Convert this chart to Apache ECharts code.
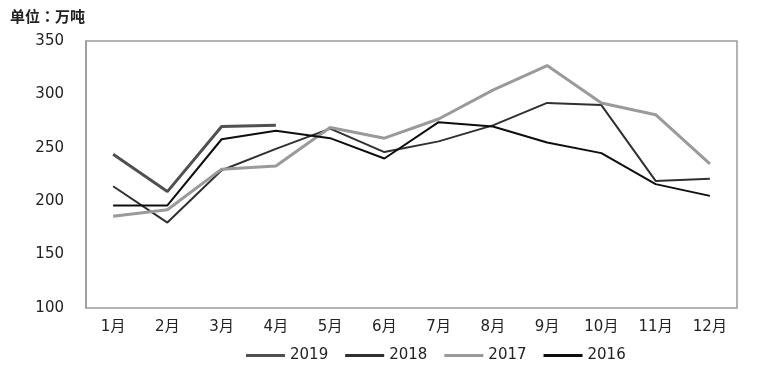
<!DOCTYPE html>
<html>
<head>
<meta charset="utf-8">
<script src="https://cdn.jsdelivr.net/npm/echarts@6/dist/echarts.min.js"></script>
<style>
  html, body { margin: 0; padding: 0; background: #fff; }
  #chart { width: 758px; height: 368px; }
</style>
</head>
<body>
<div id="chart"></div>
<script>
// 月度数据，单位：万吨
const months = ['1月', '2月', '3月', '4月', '5月', '6月', '7月', '8月', '9月', '10月', '11月', '12月'];
const y2019 = [244, 209, 270, 271];
const y2018 = [214, 180, 229, 249, 268, 246, 256, 271, 292, 290, 219, 221];
const y2017 = [186, 192, 230, 233, 269, 259, 277, 304, 327, 292, 281, 235];
const y2016 = [196, 196, 258, 266, 259, 240, 274, 270, 255, 245, 216, 205];
const yTicks = [100, 150, 200, 250, 300, 350];

const labelFont = '"DejaVu Sans", "Noto Sans CJK SC", sans-serif';

function lineSeries(name, data, color, width) {
  return {
    name: name,
    type: 'line',
    data: data,
    symbol: 'none',
    showSymbol: false,
    lineStyle: { color: color, width: width },
    itemStyle: { color: color },
    emphasis: { disabled: true }
  };
}

const chart = echarts.init(document.getElementById('chart'));
chart.setOption({
  animation: false,
  backgroundColor: '#fff',
  title: {
    text: '单位：万吨',
    left: 5,
    top: 4,
    textStyle: { fontFamily: '"Noto Sans CJK TC", sans-serif', fontSize: 15, fontWeight: 'bold', color: '#222' }
  },
  grid: {
    left: 86, top: 41, right: 21, bottom: 60,
    show: true, borderColor: '#9a9a9a', borderWidth: 1.5
  },
  legend: {
    left: 241,
    top: 343,
    icon: 'rect',
    itemWidth: 39,
    itemHeight: 3,
    itemGap: 17,
    textStyle: { fontFamily: labelFont, fontSize: 15, color: '#222' },
    data: ['2019', '2018', '2017', '2016']
  },
  xAxis: {
    type: 'category',
    data: months,
    boundaryGap: true,
    axisLine: { show: false },
    axisTick: { show: false },
    axisLabel: { margin: 12, fontFamily: labelFont, fontSize: 15, color: '#222' }
  },
  yAxis: {
    type: 'value',
    min: yTicks[0],
    max: yTicks[yTicks.length - 1],
    interval: 50,
    splitLine: { show: false },
    axisLine: { show: true, lineStyle: { color: '#9a9a9a', width: 1.5 } },
    axisTick: { show: false },
    axisLabel: { margin: 22, fontFamily: labelFont, fontSize: 15, color: '#222' }
  },
  series: [
    lineSeries('2019', y2019, '#505050', 3),
    lineSeries('2018', y2018, '#303030', 2),
    lineSeries('2017', y2017, '#9a9a9a', 3),
    lineSeries('2016', y2016, '#0e0e0e', 2)
  ]
});
</script>
</body>
</html>
